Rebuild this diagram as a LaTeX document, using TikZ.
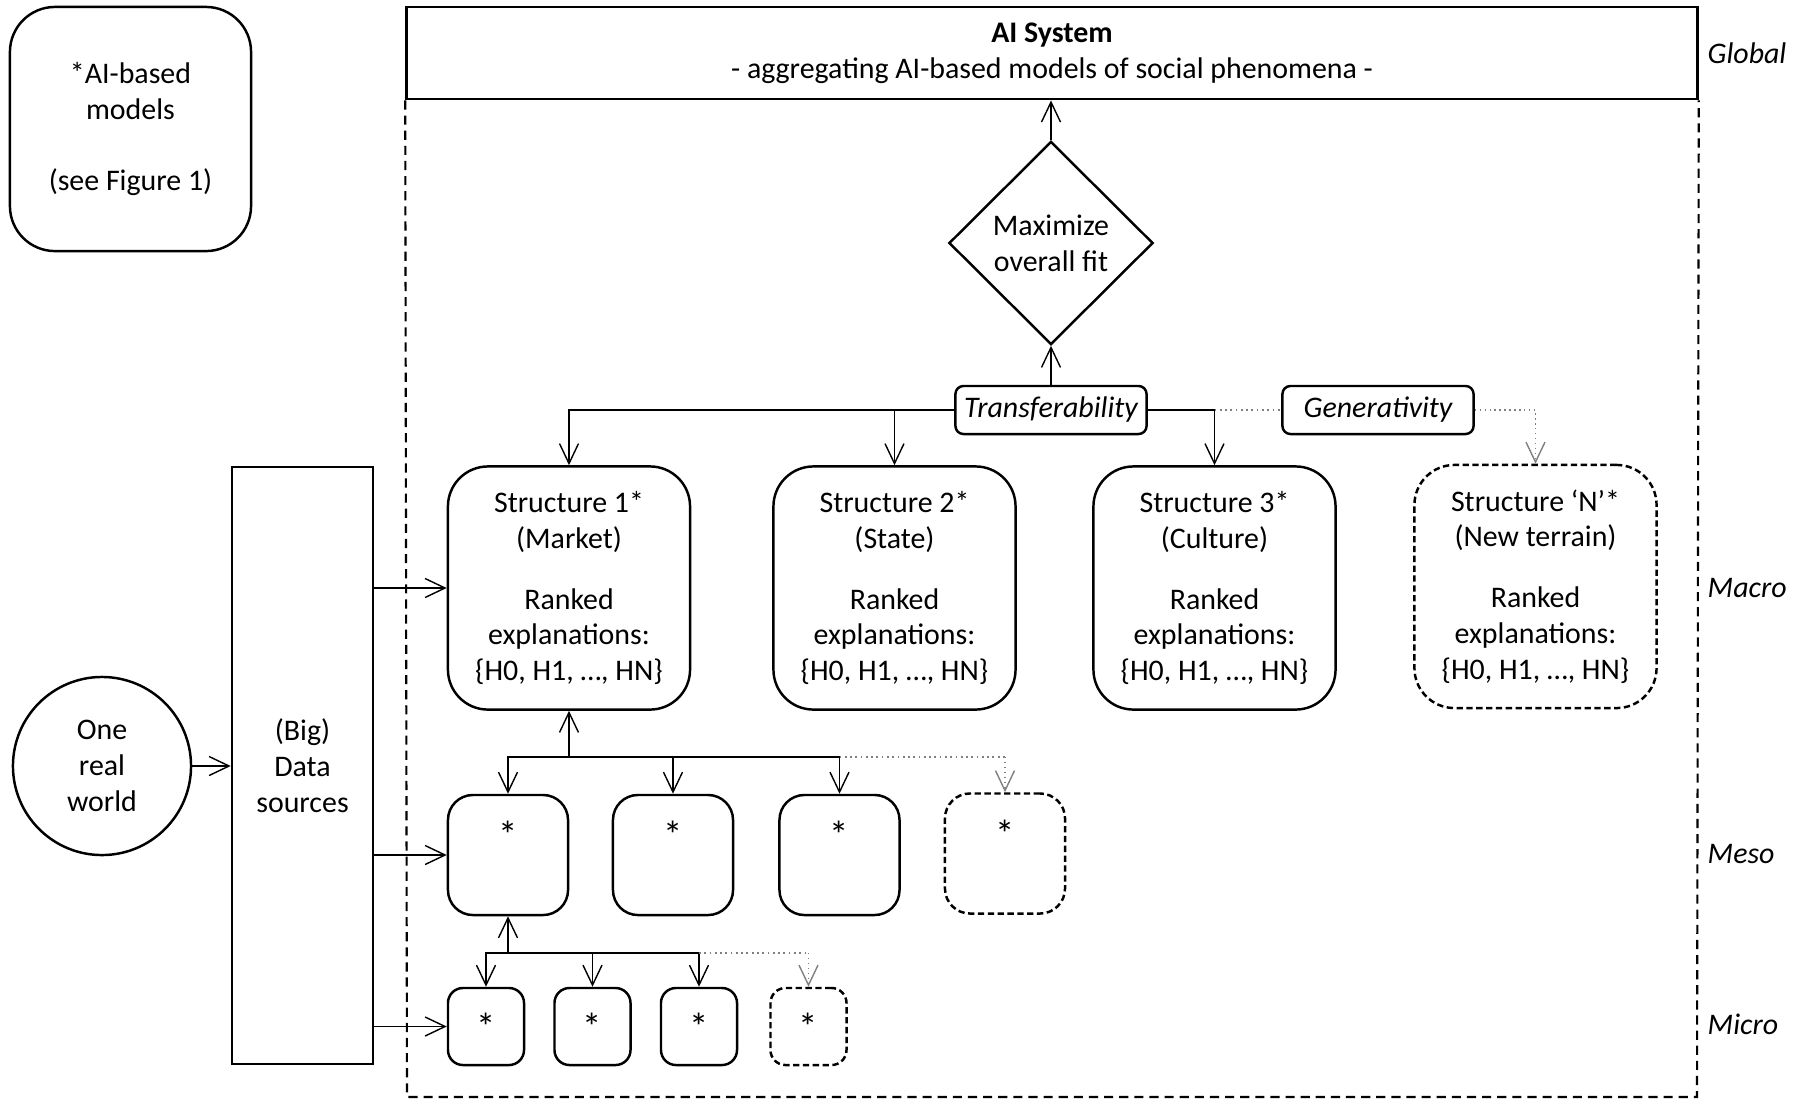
\documentclass[tikz,border=0pt]{standalone}
\usepackage{fontspec}
\setmainfont{Carlito}
\usetikzlibrary{shapes.geometric,arrows.meta}

\newcommand\figfont{\fontsize{8.5}{10.2}\selectfont}
\newcommand\starfont{\fontsize{11}{12}\selectfont}
\newcommand\ranked{Ranked\\explanations:\\\{H0, H1, …, HN\}}

\tikzset{
  box/.style={draw, line width=0.7pt, align=center, inner sep=0pt},
  structbox/.style={box, rounded corners=0.4cm, minimum width=2.42cm, minimum height=2.43cm},
  mesobox/.style={box, rounded corners=0.25cm, minimum width=1.2cm, minimum height=1.2cm,
    label={[anchor=center, yshift=-0.41cm, font=\starfont]north:*}},
  microbox/.style={box, rounded corners=0.15cm, minimum width=0.76cm, minimum height=0.77cm, font=\starfont},
  newbox/.style={dash pattern=on 1.8pt off 1pt},
  tag/.style={box, rounded corners=0.08cm, minimum width=1.91cm, minimum height=0.48cm, font=\figfont\itshape},
  level/.style={anchor=west, inner sep=0pt, font=\figfont\itshape},
  link/.style={line width=0.4pt, -{Straight Barb[length=2mm,width=1.9mm]}},
  dotline/.style={line width=0.5pt, densely dotted, gray},
  newlink/.style={link, densely dotted, gray},
  frame/.style={line width=0.6pt, dash pattern=on 2.6pt off 1.7pt},
}

\begin{document}
\begin{tikzpicture}[x=0.01cm, y=-0.01cm, font=\figfont]
  \useasboundingbox (0,0) rectangle (1811,1099);

  \node[box, rounded corners=0.45cm, minimum width=2.41cm, minimum height=2.44cm] (models) at (130.5,129)
    {*AI-based\\models\\[10.2pt](see Figure 1)};

  \node[box, line width=0.8pt, minimum width=12.9cm, minimum height=0.92cm] (aisys) at (1052,53)
    {\textbf{AI System}\\- aggregating AI-based models of social phenomena -};
  \coordinate (framesw) at (407,1097);
  \coordinate (framese) at (1697,1097);
  \draw[frame] (aisys.south west) -- (framesw) -- (framese) -- (aisys.south east);

  \node[box, diamond, minimum width=2.04cm, minimum height=2.03cm] (fit) at (1051,243) {Maximize\\overall fit};
  \node[tag] (transfer) at (1051,410) {Transferability};
  \node[tag] (gener) at (1378,410) {Generativity};

  % macro level
  \node[structbox] (s1) at (569,588) {Structure 1*\\(Market)\\[0.25cm]\ranked};
  \node[structbox] (s2) at (894.5,588) {Structure 2*\\(State)\\[0.25cm]\ranked};
  \node[structbox] (s3) at (1214.5,588) {Structure 3*\\(Culture)\\[0.25cm]\ranked};
  \node[structbox, newbox] (sN) at (1535.5,586.5) {Structure ‘N’*\\(New terrain)\\[0.25cm]\ranked};

  % meso level
  \node[mesobox] (m1) at (508,855) {};
  \node[mesobox] (m2) at (673,855) {};
  \node[mesobox] (m3) at (839.5,855) {};
  \node[mesobox, newbox] (m4) at (1005,853.5) {};

  % micro level
  \node[microbox] (u1) at (486,1026.5) {*};
  \node[microbox] (u2) at (592.5,1026.5) {*};
  \node[microbox] (u3) at (699,1026.5) {*};
  \node[microbox, newbox] (u4) at (808.5,1026.5) {*};

  \node[box, minimum width=1.41cm, minimum height=5.97cm] (data) at (302.5,765.5) {(Big)\\Data\\sources};
  \node[box, circle, minimum size=1.78cm] (world) at (102,766) {One\\real\\world};

  \node[level] (global) at (1707,53) {Global};
  \node[level] (macro) at (1707,588) {Macro};
  \node[level] (meso) at (1707,854) {Meso};
  \node[level] (micro) at (1707,1024) {Micro};

  \draw[link] (fit.north) -- (fit.north |- aisys.south);
  \draw[link] (transfer.north) -- (fit.south);
  \draw[link] (transfer.west) -| (s1.north);
  \draw[link] (s2.north |- transfer.west) -- (s2.north);
  \draw[link] (transfer.east) -| (s3.north);
  \draw[dotline] (s3.north |- transfer.east) -- (gener.west);
  \draw[newlink] (gener.east) -| (sN.north);

  \coordinate (mesobus) at (569,757);
  \draw[link] (mesobus) -- (s1.south);
  \draw[link] (mesobus) -| (m1.north);
  \draw[link] (mesobus) -| (m2.north);
  \draw[link] (mesobus) -| (m3.north);
  \draw[dotline] (m3.north |- mesobus) -- (m4.north |- mesobus);
  \draw[newlink] (m4.north |- mesobus) -- (m4.north);

  \coordinate (microbus) at (508,953);
  \draw[link] (microbus) -- (m1.south);
  \draw[link] (microbus) -| (u1.north);
  \draw[link] (microbus) -| (u2.north);
  \draw[link] (microbus) -| (u3.north);
  \draw[dotline] (u3.north |- microbus) -- (u4.north |- microbus);
  \draw[newlink] (u4.north |- microbus) -- (u4.north);

  \draw[link] (world.east) -- (world.east -| data.west);
  \draw[link] (data.east |- s1) -- (s1);
  \draw[link] (data.east |- m1) -- (m1);
  \draw[link] (data.east |- u1) -- (u1);
\end{tikzpicture}
\end{document}
